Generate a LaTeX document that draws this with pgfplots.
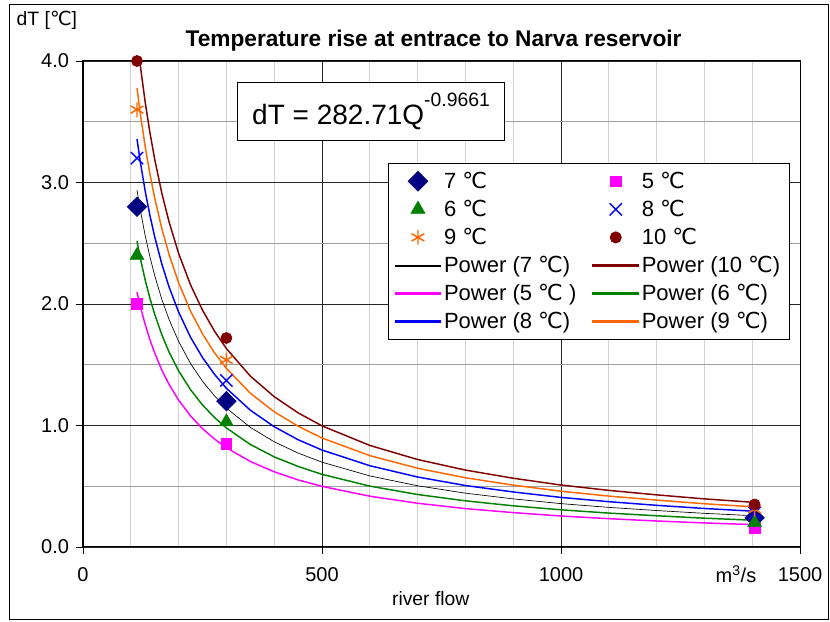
\documentclass[border=0pt]{standalone}
\usepackage{pgfplots}
\pgfplotsset{compat=1.18}
\usepackage{fontspec}
\setmainfont{Liberation Sans}
\newfontfamily\djv{DejaVu Sans}
\newcommand{\dC}{{\djv ℃}}

\definecolor{cNavy}{HTML}{000080}
\definecolor{cMag}{HTML}{FF00FF}
\definecolor{cGreen}{HTML}{008000}
\definecolor{cBlue}{HTML}{0000FF}
\definecolor{cOrange}{HTML}{FF6600}
\definecolor{cRed}{HTML}{800000}

\pgfplotsset{
  markleg/.style={legend image code/.code={\draw[##1] plot coordinates {(17pt,0pt)};}},
  lineleg/.style 2 args={legend image code/.code={\fill[fill=#1] (0pt,-#2/2) rectangle (34pt,#2/2);}},
  m7/.style={only marks, mark=square*, mark size=5.2pt, mark options={rotate=45, fill=cNavy, draw=cNavy}, markleg},
  m5/.style={only marks, mark=square*, mark size=4pt, mark options={fill=cMag, draw=cMag}, markleg},
  m6/.style={only marks, mark=triangle*, mark size=6pt, mark options={fill=cGreen, draw=cGreen}, markleg},
  m8/.style={only marks, mark=x, mark size=6.5pt, mark options={draw=cBlue, line width=1.1pt}, markleg},
  m9/.style={only marks, mark=asterisk, mark size=5.5pt, mark options={draw=cOrange, line width=1.1pt}, markleg},
  m10/.style={only marks, mark=*, mark size=4.2pt, mark options={fill=cRed, draw=cRed}, markleg},
  l7/.style={draw=black, line width=0.5pt, mark=none, lineleg={black}{0.6pt}},
  l5/.style={draw=cMag, line width=1.1pt, mark=none, lineleg={cMag}{1.1pt}},
  l6/.style={draw=cGreen, line width=1.1pt, mark=none, lineleg={cGreen}{1.1pt}},
  l8/.style={draw=cBlue, line width=1.1pt, mark=none, lineleg={cBlue}{1.1pt}},
  l9/.style={draw=cOrange, line width=1.1pt, mark=none, lineleg={cOrange}{1.1pt}},
  l10/.style={draw=cRed, line width=1.1pt, mark=none, lineleg={cRed}{1.1pt}},
}

% measured points: Q, dT
\pgfplotstableread{
Q dT
113 2.80
300 1.20
1405 0.24
}\tSeven
\pgfplotstableread{
Q dT
113 2.00
300 0.85
1405 0.16
}\tFive
\pgfplotstableread{
Q dT
113 2.40
300 1.03
1405 0.20
}\tSix
\pgfplotstableread{
Q dT
113 3.20
300 1.37
1405 0.28
}\tEight
\pgfplotstableread{
Q dT
113 3.60
300 1.54
1405 0.31
}\tNine
\pgfplotstableread{
Q dT
113 4.00
300 1.72
1405 0.35
}\tTen

% trendlines, one column per temperature
\pgfplotstableread{
Q p5 p6 p7 p8 p9 p10
113 2.098 2.517 2.937 3.357 3.776 4.196
120 1.979 2.375 2.771 3.167 3.563 3.959
130 1.832 2.199 2.565 2.931 3.298 3.664
140 1.706 2.047 2.388 2.729 3.070 3.411
150 1.596 1.915 2.234 2.553 2.872 3.191
165 1.455 1.746 2.037 2.328 2.619 2.910
180 1.338 1.605 1.873 2.141 2.408 2.676
200 1.209 1.450 1.692 1.934 2.175 2.417
225 1.079 1.294 1.510 1.726 1.941 2.157
250 0.974 1.169 1.364 1.559 1.754 1.949
275 0.889 1.066 1.244 1.422 1.599 1.777
300 0.816 0.980 1.143 1.306 1.470 1.633
350 0.704 0.844 0.985 1.126 1.266 1.407
400 0.619 0.742 0.866 0.990 1.113 1.237
450 0.552 0.663 0.773 0.883 0.994 1.104
500 0.499 0.598 0.698 0.798 0.897 0.997
600 0.418 0.501 0.585 0.669 0.752 0.836
700 0.360 0.432 0.504 0.576 0.648 0.720
800 0.316 0.380 0.443 0.506 0.570 0.633
900 0.283 0.339 0.396 0.453 0.509 0.566
1000 0.255 0.306 0.357 0.408 0.459 0.510
1100 0.233 0.279 0.326 0.373 0.419 0.466
1200 0.214 0.257 0.300 0.343 0.386 0.429
1300 0.198 0.237 0.277 0.317 0.356 0.396
1405 0.184 0.220 0.257 0.294 0.330 0.367
}\tPow

\begin{document}
\begin{tikzpicture}
\begin{axis}[
  scale only axis, width=537.75pt, height=364.5pt,
  xmin=0, xmax=1500, ymin=0, ymax=4,
  xtick={0,500,1000,1500}, ytick={0,1,2,3,4},
  minor x tick num=4, minor y tick num=1,
  grid=both,
  major grid style={black!85, line width=0.6pt},
  minor x grid style={gray!35, line width=0.6pt},
  minor y grid style={gray!75, line width=0.6pt},
  tick align=outside, tick pos=left,
  major tick length=5pt, minor tick length=0pt,
  tick style={black, line width=0.6pt},
  axis line style={black, line width=0.75pt},
  ticklabel style={font=\fontsize{15}{17}\selectfont},
  xticklabel style={yshift=-7pt},
  yticklabel style={xshift=-2pt, /pgf/number format/.cd, fixed, fixed zerofill, precision=1},
  /pgf/number format/1000 sep={},
  /pgf/number format/assume math mode=true,
  title={Temperature rise at entrace to Narva reservoir},
  title style={font=\bfseries\fontsize{17}{19}\selectfont, at={(0.489,1)}, anchor=base, yshift=5pt},
  xlabel={river flow},
  xlabel style={font=\fontsize{14.5}{16}\selectfont, at={(axis description cs:0.485,-0.121)}, anchor=base},
  ylabel={dT [\dC]},
  ylabel style={font=\fontsize{14.5}{16}\selectfont, rotate=-90, at={(axis description cs:-0.099,1.074)}, anchor=base west},
  legend columns=2,
  legend cell align=left,
  legend style={at={(0.986,0.79)}, anchor=north east, draw=black, line width=0.6pt,
    font=\fontsize{16.5}{19}\selectfont, row sep=3.3pt, inner xsep=5pt, inner ysep=4.5pt,
    /tikz/every even column/.append style={column sep=10pt}},
]
\addplot[m7, forget plot] table[x=Q, y=dT] {\tSeven};
\addplot[m5, forget plot] table[x=Q, y=dT] {\tFive};
\addplot[m6, forget plot] table[x=Q, y=dT] {\tSix};
\addplot[m8, forget plot] table[x=Q, y=dT] {\tEight};
\addplot[m9, forget plot] table[x=Q, y=dT] {\tNine};
\addplot[m10, forget plot] table[x=Q, y=dT] {\tTen};
\addplot[l7, forget plot] table[x=Q, y=p7] {\tPow};
\addplot[l10, forget plot] table[x=Q, y=p10] {\tPow};
\addplot[l5, forget plot] table[x=Q, y=p5] {\tPow};
\addplot[l6, forget plot] table[x=Q, y=p6] {\tPow};
\addplot[l8, forget plot] table[x=Q, y=p8] {\tPow};
\addplot[l9, forget plot] table[x=Q, y=p9] {\tPow};
\addlegendimage{m7}\addlegendentry{7 \dC}
\addlegendimage{m5}\addlegendentry{5 \dC}
\addlegendimage{m6}\addlegendentry{6 \dC}
\addlegendimage{m8}\addlegendentry{8 \dC}
\addlegendimage{m9}\addlegendentry{9 \dC}
\addlegendimage{m10}\addlegendentry{10 \dC}
\addlegendimage{l7}\addlegendentry{Power (7 \dC)}
\addlegendimage{l10}\addlegendentry{Power (10 \dC)}
\addlegendimage{l5}\addlegendentry{Power (5 \dC\ )}
\addlegendimage{l6}\addlegendentry{Power (6 \dC)}
\addlegendimage{l8}\addlegendentry{Power (8 \dC)}
\addlegendimage{l9}\addlegendentry{Power (9 \dC)}
\node[draw=black, line width=0.6pt, fill=white, minimum width=200pt, minimum height=43.5pt, inner xsep=3pt, font=\fontsize{21}{24}\selectfont]
  at (rel axis cs:0.4017,0.8971) {dT = 282.71Q\raisebox{0.65em}{\fontsize{14.5}{15}\selectfont -0.9661}};
\coordinate (sw) at (rel axis cs:0,0);
\coordinate (ne) at (rel axis cs:1,1);
\end{axis}
\node[anchor=base, font=\fontsize{15}{17}\selectfont] at ([shift={(489.7pt,-26.5pt)}]sw) {m\textsuperscript{3}/s};
\draw[black, line width=0.75pt] ([shift={(-54.75pt,-54.75pt)}]sw) rectangle ([shift={(21pt,42pt)}]ne);
\pgfresetboundingbox
\path ([shift={(-62.25pt,-56.25pt)}]sw) rectangle ([shift={(22.5pt,45.75pt)}]ne);
\end{tikzpicture}
\end{document}
